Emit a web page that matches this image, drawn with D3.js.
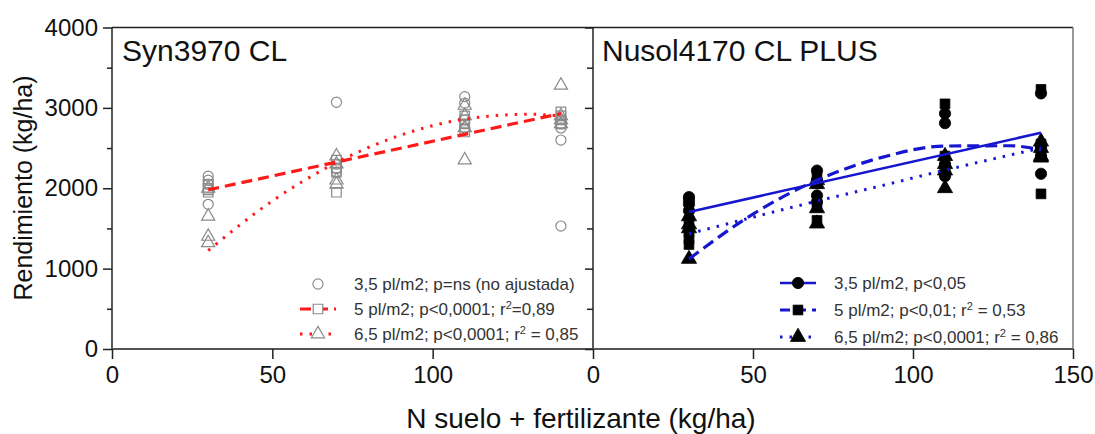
<!DOCTYPE html>
<html><head><meta charset="utf-8">
<script src="https://cdn.jsdelivr.net/npm/d3@7"></script>
<style>
body{margin:0;background:#fff}
svg{display:block}
text{font-family:"Liberation Sans",Arial,Helvetica,sans-serif}
</style>
</head><body>
<svg id="c" width="1095" height="434"></svg>
<script>
// ---------- DATA ----------
const nLevels = [30, 70, 110, 140];               // N suelo + fertilizante (kg/ha)
const yTicks = [0, 1000, 2000, 3000, 4000];
const yMinor = [500, 1500, 2500, 3500];
const xTicksLeft = [0, 50, 100];
const xTicksRight = [0, 50, 100, 150];
const panelTitles = ["Syn3970 CL", "Nusol4170 CL PLUS"];

// Syn3970 CL – yields (kg/ha), 4 reps per N level
const syn35 = [[2150, 2100, 2050, 1800], [3070, 2300, 2250, 2200], [3140, 3060, 2850, 2750], [2800, 2750, 2600, 1530]];
const syn5  = [[2050, 2000, 1980, 1950], [2350, 2250, 2200, 1950], [2900, 2850, 2800, 2700], [2950, 2900, 2850, 2800]];
const syn65 = [[2000, 1650, 1400, 1320], [2400, 2300, 2100, 2050], [3030, 2900, 2750, 2350], [3280, 2900, 2850, 2800]];

// Nusol4170 CL PLUS – yields (kg/ha)
const nus35 = [[1890, 1850, 1800, 1720], [2220, 2100, 1910, 1830], [2930, 2810, 2300, 2150], [3180, 2500, 2400, 2180]];
const nus5  = [[1600, 1450, 1370, 1300], [2150, 2060, 1770, 1600], [3050, 2400, 2250, 2200], [3230, 2550, 2450, 1930]];
const nus65 = [[1650, 1550, 1500, 1120], [2100, 2050, 1750, 1560], [2400, 2300, 2220, 2000], [2580, 2500, 2400, 2380]];

// Fitted curves
const fitX2 = [30, 140];
const fitX7 = [30, 50, 70, 90, 110, 130, 140];
const synFit5  = [1980, 2930];
const synFit65 = [1225, 1842, 2320, 2660, 2860, 2921, 2900];
const nusFit35 = [1705, 2690];
const nusFit5  = [1120, 1679, 2100, 2381, 2525, 2529, 2479];
const nusFit65 = [1433, 1640, 1840, 2030, 2225, 2410, 2500];

const legendLeft = ["3,5 pl/m2; p=ns (no ajustada)", "5 pl/m2; p<0,0001; r|2|=0,89", "6,5 pl/m2; p<0,0001; r|2| = 0,85"];
const legendRight = ["3,5 pl/m2, p<0,05", "5 pl/m2; p<0,01; r|2| = 0,53", "6,5 pl/m2; p<0,0001; r|2| = 0,86"];

// ---------- LAYOUT ----------
const svg = d3.select("#c");
const yTop = 27.5, yBot = 349;
const xL0 = 112, xMid = 593, xR1 = 1073;
const y = d3.scaleLinear().domain([0, 4000]).range([yBot, yTop]);
const xL = d3.scaleLinear().domain([0, 150]).range([xL0, xMid]);
const xR = d3.scaleLinear().domain([0, 150]).range([xMid, xR1]);

const red = "#ff1a1a", blue = "#1616d0", gray = "#8a8a8a";

// ---------- MARKERS ----------
function drawPoints(g, x, data, type, size, filled) {
  const sym = d3.symbol().type(type).size(size);
  data.forEach((vals, i) => {
    vals.forEach(v => {
      g.append("path").attr("d", sym)
        .attr("transform", `translate(${x(nLevels[i])},${y(v)})`)
        .attr("fill", filled ? "#000" : "none")
        .attr("stroke", filled ? "#000" : gray)
        .attr("stroke-width", filled ? 0.8 : 1.2);
    });
  });
}
const gPts = svg.append("g");
drawPoints(gPts, xL, syn35, d3.symbolCircle, 80, false);
drawPoints(gPts, xL, syn5, d3.symbolSquare, 90, false);
drawPoints(gPts, xL, syn65, d3.symbolTriangle, 75, false);
drawPoints(gPts, xR, nus35, d3.symbolCircle, 100, true);
drawPoints(gPts, xR, nus5, d3.symbolSquare, 95, true);
drawPoints(gPts, xR, nus65, d3.symbolTriangle, 100, true);

// ---------- FIT LINES ----------
function drawFit(x, xs, ys, color, dash, w) {
  const line = d3.line().x(d => x(d[0])).y(d => y(d[1])).curve(d3.curveMonotoneX);
  svg.append("path").attr("d", line(xs.map((v, i) => [v, ys[i]])))
    .attr("fill", "none").attr("stroke", color).attr("stroke-width", w)
    .attr("stroke-dasharray", dash);
}
drawFit(xL, fitX2, synFit5, red, "11,6", 3.2);
drawFit(xL, fitX7, synFit65, red, "2.5,7", 3);
drawFit(xR, fitX2, nusFit35, blue, null, 2.6);
drawFit(xR, fitX7, nusFit5, blue, "12,6", 3.2);
drawFit(xR, fitX7, nusFit65, blue, "2.5,7", 3);

// ---------- FRAMES & AXES ----------
const frame = svg.append("g").attr("fill", "none").attr("stroke", "#222").attr("stroke-width", 1.5);
frame.append("line").attr("x1", xL0).attr("x2", xR1).attr("y1", yTop).attr("y2", yTop);
frame.append("line").attr("x1", xL0).attr("x2", xL0).attr("y1", yTop).attr("y2", yBot);
frame.append("line").attr("x1", xMid).attr("x2", xMid).attr("y1", yTop).attr("y2", yBot);
frame.append("line").attr("x1", xR1).attr("x2", xR1).attr("y1", yTop).attr("y2", yBot).attr("stroke", "#777");
frame.append("line").attr("x1", xL0).attr("x2", xR1).attr("y1", yBot).attr("y2", yBot).attr("stroke", "#555").attr("stroke-width", 2);

function styleAxis(g, fs) {
  g.select(".domain").remove();
  g.selectAll("line").attr("stroke", "#222").attr("stroke-width", 1.5);
  g.selectAll("text").attr("font-size", fs).attr("fill", "#111")
    .attr("font-family", '"Liberation Sans",Arial,sans-serif');
}
// left y axis
const ya = svg.append("g").attr("transform", `translate(${xL0},0)`)
  .call(d3.axisLeft(y).tickValues(yTicks).tickSize(9).tickPadding(5).tickFormat(d3.format("d")));
styleAxis(ya, 24);
const ym = svg.append("g").attr("transform", `translate(${xL0},0)`)
  .call(d3.axisLeft(y).tickValues(yMinor).tickSize(5).tickFormat(""));
styleAxis(ym, 0);
// shared border ticks (pointing left)
const yb = svg.append("g").attr("transform", `translate(${xMid},0)`)
  .call(d3.axisLeft(y).tickValues(yTicks).tickSize(8).tickFormat(""));
styleAxis(yb, 0);
const ybm = svg.append("g").attr("transform", `translate(${xMid},0)`)
  .call(d3.axisLeft(y).tickValues(yMinor).tickSize(6).tickFormat(""));
styleAxis(ybm, 0);
// x axes
const xa1 = svg.append("g").attr("transform", `translate(0,${yBot})`)
  .call(d3.axisBottom(xL).tickValues(xTicksLeft).tickSize(10).tickPadding(7));
styleAxis(xa1, 24);
const xa2 = svg.append("g").attr("transform", `translate(0,${yBot})`)
  .call(d3.axisBottom(xR).tickValues(xTicksRight).tickSize(10).tickPadding(7));
styleAxis(xa2, 24);

// ---------- TEXTS ----------
svg.append("text").attr("x", 122).attr("y", 61).attr("font-size", 30).attr("fill", "#111").text(panelTitles[0]);
svg.append("text").attr("x", 602).attr("y", 61).attr("font-size", 30).attr("fill", "#111").text(panelTitles[1]);

svg.append("text").attr("transform", "translate(32,188) rotate(-90)").attr("text-anchor", "middle")
  .attr("font-size", 25).attr("fill", "#111").text("Rendimiento (kg/ha)");
svg.append("text").attr("x", 581).attr("y", 428).attr("text-anchor", "middle")
  .attr("font-size", 28).attr("fill", "#111").text("N suelo + fertilizante (kg/ha)");

// ---------- LEGENDS ----------
function legendText(g, x, yy, str) {
  const t = g.append("text").attr("x", x).attr("y", yy).attr("dy", "0.36em")
    .attr("font-size", 17).attr("fill", "#333");
  str.split("|").forEach((part, i) => {
    const ts = t.append("tspan").text(part);
    if (i === 1) ts.attr("font-size", 11).attr("dy", "-0.6em");
    if (i === 2) ts.attr("dy", "0.4em");
  });
}
function legendRow(g, cx, yy, lineCfg, type, size, filled) {
  if (lineCfg) {
    g.append("line").attr("x1", cx - 18).attr("x2", cx + 18).attr("y1", yy).attr("y2", yy)
      .attr("stroke", lineCfg.color).attr("stroke-width", lineCfg.w)
      .attr("stroke-dasharray", lineCfg.dash);
  }
  g.append("path").attr("d", d3.symbol().type(type).size(size))
    .attr("transform", `translate(${cx},${yy})`)
    .attr("fill", filled ? "#000" : "#fff")
    .attr("stroke", filled ? "#000" : gray).attr("stroke-width", filled ? 0.8 : 1.2);
}
const lg = svg.append("g");
const lyL = [284, 309, 334], lyR = [283, 310, 337];
legendRow(lg, 318, lyL[0], null, d3.symbolCircle, 80, false);
legendRow(lg, 318, lyL[1], {color: red, w: 3.2, dash: "11,6"}, d3.symbolSquare, 90, false);
legendRow(lg, 318, lyL[2], {color: red, w: 3, dash: "2.5,7"}, d3.symbolTriangle, 75, false);
legendLeft.forEach((s, i) => legendText(lg, 354, lyL[i], s));

legendRow(lg, 798, lyR[0], {color: blue, w: 2.6, dash: null}, d3.symbolCircle, 100, true);
legendRow(lg, 798, lyR[1], {color: blue, w: 3.2, dash: "10,6"}, d3.symbolSquare, 95, true);
legendRow(lg, 798, lyR[2], {color: blue, w: 3, dash: "2.5,7"}, d3.symbolTriangle, 100, true);
legendRight.forEach((s, i) => legendText(lg, 834, lyR[i], s));
</script>
</body></html>
